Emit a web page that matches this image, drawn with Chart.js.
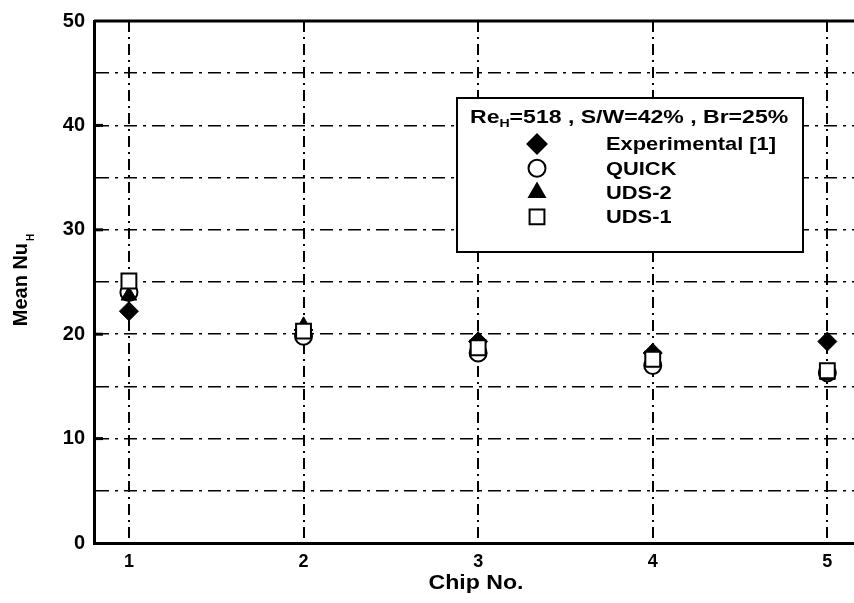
<!DOCTYPE html>
<html>
<head>
<meta charset="utf-8">
<script src="https://cdn.jsdelivr.net/npm/chart.js@4.4.1/dist/chart.umd.min.js"></script>
<style>
  html, body { margin: 0; padding: 0; background: #fff; overflow: hidden; }
  #wrap { width: 880px; height: 603px; }
</style>
</head>
<body>
<div id="wrap"><canvas id="nuChart" width="880" height="603"></canvas></div>
<script>
// chip numbers and mean Nu_H per chip
const chips = [1, 2, 3, 4, 5];
const experimental = [22.2, 20.4, 19.3, 18.2, 19.3];
const quick = [24.0, 19.8, 18.2, 17.0, 16.3];
const uds2 = [23.7, 20.8, 19.4, 18.3, 16.1];
const uds1 = [25.1, 20.3, 18.7, 17.6, 16.5];
const yTicks = [0, 10, 20, 30, 40, 50];
const xTicks = [1, 2, 3, 4, 5];

const legendItems = [
    { label: 'Experimental [1]', style: 'rectRot', fill: '#000', r: 9.5 },
    { label: 'QUICK', style: 'circle', fill: '#fff', r: 8.5 },
    { label: 'UDS-2', style: 'triangle', fill: '#000', r: 9 },
    { label: 'UDS-1', style: 'rect', fill: '#fff', r: 10.5 }
];

function toPoints(values) {
    return chips.map((c, i) => ({ x: c, y: values[i] }));
}

const fontName = '"Liberation Sans", Arial, sans-serif';

// text stretched a little sideways, the scan is wider than a plain font
function wideText(ctx, text, x, y, sx) {
    ctx.save();
    ctx.translate(x, y);
    ctx.scale(sx, 1);
    ctx.fillText(text, 0, 0);
    ctx.restore();
    return ctx.measureText(text).width * sx;
}

const extras = {
    id: 'extras',
    afterDraw(chart) {
        const ctx = chart.ctx;
        const area = chart.chartArea;
        const yScale = chart.scales.y;
        ctx.save();
        ctx.strokeStyle = '#000';
        ctx.lineWidth = 3;
        ctx.beginPath();
        ctx.moveTo(area.left, area.top);
        ctx.lineTo(area.right, area.top);
        ctx.stroke();

        // short inner ticks on the left axis
        yTicks.slice(1, -1).forEach(v => {
            const py = yScale.getPixelForValue(v);
            ctx.beginPath();
            ctx.moveTo(area.left, py);
            ctx.lineTo(area.left + 9, py);
            ctx.stroke();
        });

        // legend box
        const bx = 457, by = 98, bw = 346, bh = 154;
        ctx.fillStyle = '#fff';
        ctx.fillRect(bx, by, bw, bh);
        ctx.lineWidth = 2;
        ctx.strokeRect(bx, by, bw, bh);

        ctx.fillStyle = '#000';
        ctx.textBaseline = 'middle';
        ctx.textAlign = 'left';
        const st = 1.28;
        ctx.font = 'bold 18px ' + fontName;
        let tx = 470;
        tx += wideText(ctx, 'Re', tx, 118, st);
        ctx.font = 'bold 11px ' + fontName;
        tx += wideText(ctx, 'H', tx, 124, st);
        ctx.font = 'bold 18px ' + fontName;
        wideText(ctx, '=518 , S/W=42% , Br=25%', tx, 118, st);

        ctx.font = 'bold 19px ' + fontName;
        legendItems.forEach((item, i) => {
            const y = 144 + i * 24.3;
            ctx.fillStyle = item.fill;
            ctx.lineWidth = 2;
            Chart.helpers.drawPoint(ctx, { pointStyle: item.style, radius: item.r, borderWidth: 2 }, 537, y);
            ctx.fillStyle = '#000';
            wideText(ctx, item.label, 606, y + 1, 1.15);
        });

        // y axis title with subscript
        ctx.save();
        ctx.translate(27, 281);
        ctx.rotate(-Math.PI / 2);
        ctx.textAlign = 'left';
        ctx.textBaseline = 'alphabetic';
        const main = 'Mean Nu';
        ctx.font = 'bold 20px ' + fontName;
        const w1 = ctx.measureText(main).width;
        ctx.font = 'bold 10px ' + fontName;
        const w2 = ctx.measureText('H').width;
        const sx = -(w1 + w2) / 2;
        ctx.font = 'bold 20px ' + fontName;
        ctx.fillText(main, sx, 0);
        ctx.font = 'bold 10px ' + fontName;
        ctx.fillText('H', sx + w1 + 2, 7);
        ctx.restore();

        // x axis title
        ctx.textAlign = 'center';
        ctx.font = 'bold 21px ' + fontName;
        ctx.save();
        ctx.translate(476, 583);
        ctx.scale(1.1, 1);
        ctx.fillText('Chip No.', 0, 0);
        ctx.restore();
        ctx.restore();
    }
};

new Chart(document.getElementById('nuChart'), {
    type: 'scatter',
    data: {
        datasets: [
            {
                label: 'Experimental [1]',
                data: toPoints(experimental),
                pointStyle: 'rectRot',
                pointRadius: 9.5,
                backgroundColor: '#000',
                borderColor: '#000',
                borderWidth: 1,
                order: 4
            },
            {
                label: 'QUICK',
                data: toPoints(quick),
                pointStyle: 'circle',
                pointRadius: 8.5,
                backgroundColor: '#fff',
                borderColor: '#000',
                borderWidth: 2,
                order: 3
            },
            {
                label: 'UDS-2',
                data: toPoints(uds2),
                pointStyle: 'triangle',
                pointRadius: 9,
                backgroundColor: '#000',
                borderColor: '#000',
                borderWidth: 1,
                order: 2
            },
            {
                label: 'UDS-1',
                data: toPoints(uds1),
                pointStyle: 'rect',
                pointRadius: 10.5,
                backgroundColor: '#fff',
                borderColor: '#000',
                borderWidth: 2,
                order: 1
            }
        ]
    },
    options: {
        responsive: false,
        animation: false,
        devicePixelRatio: 1,
        layout: { padding: { top: 21, right: 0, left: 0, bottom: 0 } },
        plugins: {
            legend: { display: false },
            tooltip: { enabled: false }
        },
        scales: {
            x: {
                type: 'linear',
                min: 0.8,
                max: 5.23,
                afterBuildTicks: scale => { scale.ticks = xTicks.map(v => ({ value: v })); },
                afterFit: scale => { scale.height = 60; },
                grid: { color: '#000', lineWidth: 2, drawTicks: false },
                border: { color: '#000', width: 3, dash: [11, 5, 2, 5] },
                ticks: {
                    color: '#000',
                    padding: 8,
                    font: { family: fontName, size: 18, weight: 'bold' }
                }
            },
            y: {
                min: 0,
                max: 50,
                afterBuildTicks: scale => {
                    const t = [];
                    for (let v = 0; v <= 50; v += 5) t.push({ value: v });
                    scale.ticks = t;
                },
                afterFit: scale => { scale.width = 94; },
                grid: { color: '#000', lineWidth: 1.5, drawTicks: false },
                border: { color: '#000', width: 3, dash: [13, 6, 3, 6] },
                ticks: {
                    color: '#000',
                    padding: 9,
                    font: { family: fontName, size: 20, weight: 'bold' },
                    callback: v => (yTicks.includes(v) ? String(v) : '')
                }
            }
        }
    },
    plugins: [extras]
});
</script>
</body>
</html>
